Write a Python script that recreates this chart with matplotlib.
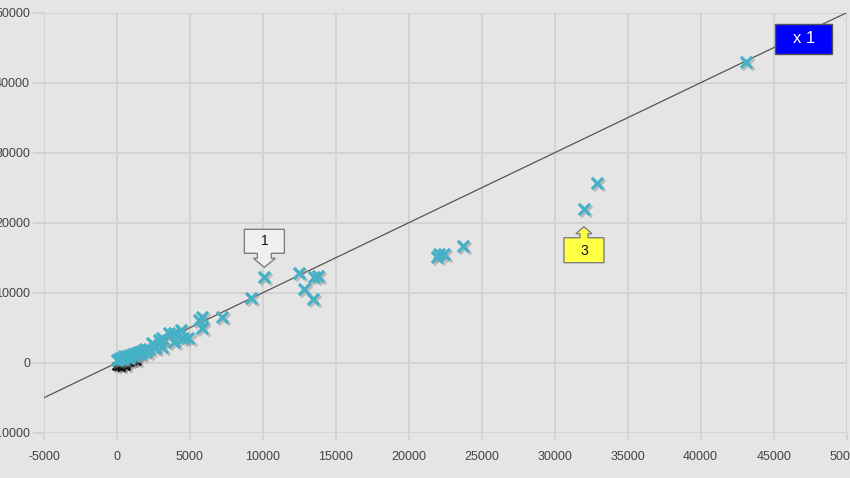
import numpy as np
import matplotlib
matplotlib.use("Agg")
import matplotlib.pyplot as plt
import matplotlib.transforms as mtransforms
from matplotlib.patches import Polygon, Rectangle

plt.rcParams["axes.unicode_minus"] = False

# --- data ---
teal_x = [43100, 32900, 32000, 23700, 22400, 22100, 21900, 13800, 13500, 12500,
          12800, 13400, 10100, 9200, 7200, 5800, 5600, 5800, 4900, 4400,
          4500, 3900, 3600, 3900, 3100, 3100, 2900, 2400, 2200, 1900,
          1700, 1500, 1300, 1100, 900, 700, 500, 300, 150, 0,
          400, 800, 1200, 1600, 2000, 2600]
teal_y = [42900, 25700, 22000, 16700, 15600, 15500, 15100, 12400, 12200, 12800,
          10600, 9100, 12200, 9200, 6500, 6500, 6100, 5000, 3600, 4700,
          3500, 4300, 4200, 3000, 3500, 2300, 3200, 2800, 2000, 1900,
          1700, 1500, 1400, 1200, 1100, 1000, 900, 700, 600, 400,
          500, 700, 1000, 1300, 1500, 2100]

black_x = [-100, 100, 300, 500, 700, 900, 1100, 300, 600, 1400]
black_y = [-500, -400, -300, -200, -100, 100, 200, -600, -400, 300]

callout_points = [(10100, 12200), (32000, 22000)]
callout_labels = ["1", "3"]
legend_text = "x 1"

xticks = np.arange(-5000, 50001, 5000)
yticks = np.arange(-10000, 50001, 10000)

BG = "#e5e5e5"
GRID = "#d2d2d2"
TEAL = "#45b0c6"

fig = plt.figure(figsize=(8.5, 4.78), dpi=100, facecolor=BG)
ax = fig.add_axes([44 / 850, 45.3 / 478, 802.6 / 850, 420 / 478], facecolor=BG)
ax.set_xlim(-5000, 50000)
ax.set_ylim(-10000, 50000)
ax.set_xticks(xticks)
ax.set_yticks(yticks)
ax.grid(True, color=GRID, lw=1.3)
ax.set_axisbelow(True)
for s in ax.spines.values():
    s.set_visible(False)
ax.tick_params(axis="x", length=5, width=1.3, color=GRID, pad=8,
               labelsize=9, labelcolor="#444444")
ax.tick_params(axis="y", length=8, width=1.3, color=GRID, pad=2,
               labelsize=9, labelcolor="#444444")
for lab in ax.get_xticklabels() + ax.get_yticklabels():
    lab.set_family("Liberation Sans")

# reference line y = x
ax.axline((0, 0), slope=1, color="#555555", lw=0.9, zorder=2)

# drop shadows
shadow = mtransforms.offset_copy(ax.transData, fig=fig, x=1.5, y=-1.5, units="points")
ax.scatter(black_x, black_y, marker="x", s=30, lw=2, color="#777777", alpha=0.5,
           transform=shadow, zorder=3)
ax.scatter(black_x, black_y, marker="x", s=30, lw=2, color="#111111", zorder=3)
ax.scatter(teal_x, teal_y, marker="x", s=65, lw=2.3, color="#888888", alpha=0.45,
           transform=shadow, zorder=4)
ax.scatter(teal_x, teal_y, marker="x", s=65, lw=2.3, color=TEAL, zorder=4)

# callouts, shapes in pixels relative to the annotated point
down_shape = [(0, 10), (11, 19), (7, 19), (7, 24), (20, 24), (20, 48),
              (-20, 48), (-20, 24), (-7, 24), (-7, 19), (-11, 19)]
up_shape = [(0, -18), (8, -25), (4, -25), (4, -29), (20, -29), (20, -54),
            (-20, -54), (-20, -29), (-4, -29), (-4, -25), (-8, -25)]
shapes = [down_shape, up_shape]
faces = ["#f0f0f0", "#ffff44"]
text_off = [36, -42]
px = mtransforms.Affine2D().scale(1 / fig.dpi) + fig.dpi_scale_trans
for (cx, cy), lab, shp, fc, to in zip(callout_points, callout_labels, shapes, faces, text_off):
    tr = px + mtransforms.ScaledTranslation(cx, cy, ax.transData)
    ax.add_patch(Polygon(shp, closed=True, transform=tr, fc=fc, ec="#808080",
                         lw=1, zorder=6, clip_on=False))
    ax.text(0, to, lab, transform=tr, ha="center", va="center", fontsize=10,
            family="Liberation Sans", color="#111111", zorder=7)

# blue "x 1" box
ax.add_patch(Rectangle((0.911, 0.902), 0.071, 0.071, transform=ax.transAxes,
                       fc="#0000ff", ec="#555555", lw=1, zorder=8))
ax.text(0.9465, 0.9375, legend_text, transform=ax.transAxes, ha="center",
        va="center", color="white", fontsize=12, family="Liberation Sans", zorder=9)

fig.savefig("out.png", dpi=100, facecolor=BG)
